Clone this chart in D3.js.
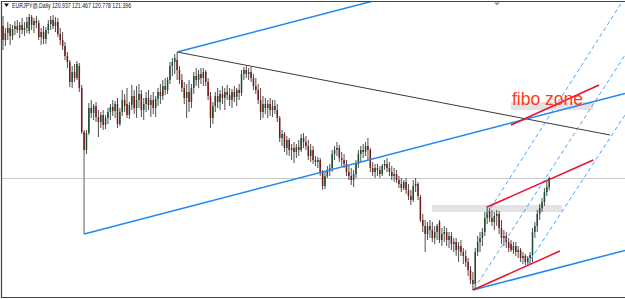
<!DOCTYPE html>
<html>
<head>
<meta charset="utf-8">
<script src="https://cdn.jsdelivr.net/npm/d3@7"></script>
<style>
  body { margin: 0; background: #fff; }
  svg { display: block; }
</style>
</head>
<body>
<div id="chart"></div>
<script>
// EURJPY daily bars (yen)
const symbol = 'EURJPY@,Daily';

const open = [
  129.00,128.30,128.65,128.90,128.50,128.85,129.00,128.80,129.05,128.80,
  128.90,128.75,129.45,129.05,129.25,129.15,128.45,128.70,128.35,128.80,
  129.10,129.30,129.00,129.20,128.60,128.30,128.00,127.50,127.20,126.20,
  126.70,126.40,127.00,125.90,123.70,122.80,123.65,124.90,124.65,125.00,
  124.45,124.20,124.55,124.05,124.40,124.70,124.95,124.75,125.10,124.10,
  124.70,125.30,125.10,124.55,125.05,125.50,124.90,125.30,125.60,124.80,
  125.10,125.40,125.05,125.30,124.90,125.35,125.70,125.50,126.00,125.80,
  126.30,127.00,127.20,127.30,126.80,126.30,125.90,125.40,125.70,125.20,
  125.90,126.50,126.30,126.60,126.40,126.70,126.20,125.50,124.40,125.00,
  125.50,125.20,125.60,125.40,125.70,125.55,125.30,125.70,125.45,125.80,
  125.65,126.60,126.80,126.60,126.70,126.40,126.00,125.80,125.30,124.70,
  125.10,124.90,125.10,124.80,125.00,124.80,124.40,123.40,123.60,122.90,
  123.30,122.80,122.90,122.70,122.95,122.80,123.40,123.20,123.00,122.50,
  122.80,122.30,122.20,122.30,121.70,121.00,121.50,121.80,121.90,122.60,
  122.80,122.90,122.40,122.30,122.10,121.70,121.50,121.30,121.60,122.10,
  122.60,122.80,122.70,123.00,122.80,121.90,121.70,121.90,121.80,121.60,
  122.00,122.10,121.90,121.70,121.50,121.60,121.30,121.10,120.90,121.20,
  120.80,120.50,120.30,121.00,121.10,120.45,119.30,119.00,118.60,119.00,
  118.80,118.40,118.70,119.20,118.30,118.60,118.70,118.30,118.50,118.10,
  118.20,117.80,118.00,117.70,117.50,117.20,116.80,116.30,116.10,117.70,
  118.20,118.40,118.70,119.40,119.70,119.40,119.20,119.50,119.60,118.90,
  118.40,118.50,118.20,118.10,117.80,118.00,117.70,117.80,117.40,117.50,
  117.20,117.40,117.55,118.70,119.00,119.60,119.90,120.20,120.70,120.937
];
const high = [
  129.50,128.90,129.20,129.10,129.05,129.25,129.30,129.20,129.40,129.20,
  129.45,129.60,129.55,129.40,129.50,129.30,128.90,129.00,128.95,129.30,
  129.50,129.55,129.45,129.40,128.90,128.70,128.20,127.70,127.30,127.00,
  127.10,127.25,127.15,126.05,123.80,123.80,125.15,125.30,125.10,125.20,
  124.80,124.70,124.80,124.55,124.90,125.10,125.30,125.25,125.40,124.90,
  125.80,125.60,125.90,125.20,126.05,125.80,126.00,126.10,125.80,125.40,
  125.70,125.80,125.55,125.70,125.50,125.90,126.10,126.30,126.40,126.45,
  127.20,127.40,127.60,127.70,127.00,126.60,126.20,126.10,126.30,126.10,
  126.70,126.90,126.80,126.90,126.90,126.80,126.40,125.70,125.20,125.70,
  125.90,125.80,126.00,125.90,126.05,125.90,125.85,126.00,125.90,126.10,
  126.80,126.95,127.00,126.90,126.95,126.60,126.40,126.10,125.90,125.50,
  125.40,125.30,125.40,125.30,125.30,125.10,124.50,123.80,123.70,123.50,
  123.40,123.10,123.20,123.10,123.30,123.60,123.65,123.50,123.30,123.10,
  123.00,122.50,122.45,122.40,121.80,121.70,122.00,122.10,122.80,123.00,
  123.20,123.05,122.70,122.60,122.30,122.00,121.90,121.80,122.30,122.80,
  123.00,123.10,123.20,123.40,122.90,122.20,122.10,122.10,122.00,122.10,
  122.30,122.40,122.20,122.00,121.90,121.80,121.50,121.40,121.30,121.40,
  121.10,120.80,121.30,121.40,121.20,120.55,119.60,119.30,119.20,119.30,
  119.20,119.00,119.10,119.30,118.90,119.00,118.90,118.70,118.70,118.40,
  118.40,118.20,118.30,117.90,117.80,117.40,117.00,116.70,117.90,118.50,
  118.70,118.90,119.70,120.00,119.90,119.80,119.70,119.80,119.75,119.30,
  118.80,118.70,118.40,118.30,118.20,118.20,118.00,117.90,117.70,117.60,
  117.50,117.70,118.90,119.20,119.80,120.10,120.40,120.90,121.30,121.467
];
const low = [
  127.80,128.00,128.30,128.05,128.30,128.55,128.65,128.40,128.60,128.50,
  128.65,128.60,128.80,128.65,128.90,128.30,128.05,128.10,128.10,128.60,
  128.80,128.85,128.70,128.45,128.05,127.80,127.30,126.90,125.95,125.90,
  126.20,126.30,125.70,123.60,122.45,122.60,123.55,124.40,124.30,124.20,
  123.45,123.90,123.80,123.85,124.10,124.30,124.50,124.40,123.90,124.00,
  124.50,124.70,124.40,124.35,124.80,124.60,124.40,124.90,124.45,124.30,
  124.70,124.80,124.45,124.60,124.45,125.00,125.10,125.30,125.55,125.60,
  126.10,126.50,126.60,126.30,126.10,125.70,125.10,124.40,124.70,124.90,
  125.60,126.00,125.90,126.10,126.00,126.00,125.30,123.90,124.10,124.70,
  124.90,124.80,125.10,124.80,125.30,125.00,124.90,125.20,125.00,125.30,
  125.50,126.30,126.40,126.30,126.20,125.80,125.60,125.10,124.30,124.40,
  124.60,124.40,124.50,124.45,124.60,124.20,123.20,123.00,122.70,122.55,
  122.50,122.30,122.15,122.40,122.50,122.70,122.90,122.80,122.30,122.20,
  122.10,122.00,121.90,121.50,120.80,120.85,121.40,121.50,121.70,122.30,
  122.50,122.20,122.00,121.90,121.50,121.30,121.05,120.95,121.40,121.90,
  122.20,122.40,122.50,122.30,121.70,121.50,121.40,121.50,121.40,121.50,
  121.80,121.70,121.50,121.30,121.20,121.15,120.90,120.70,120.80,120.60,
  120.30,120.05,120.20,120.70,120.30,119.20,118.70,117.70,118.30,118.40,
  118.20,118.10,118.30,118.15,118.00,118.20,118.00,117.90,117.80,117.70,
  117.50,117.20,117.50,117.10,116.95,116.50,116.10,115.80,115.90,117.50,
  117.70,118.00,118.50,119.10,119.20,119.00,118.80,119.00,118.60,118.10,
  118.00,117.90,117.70,117.70,117.60,117.50,117.40,117.20,117.10,117.05,
  117.05,117.10,117.20,118.40,118.70,119.30,119.70,120.00,120.50,120.778
];
const close = [
  128.30,128.65,128.90,128.50,128.85,129.00,128.80,129.05,128.80,128.90,
  129.20,129.45,129.05,129.25,129.15,128.45,128.70,128.35,128.80,129.10,
  129.30,129.00,129.20,128.60,128.30,128.00,127.50,127.20,126.20,126.70,
  126.40,127.10,125.90,123.70,122.80,123.65,124.90,124.65,125.00,124.45,
  124.20,124.55,124.05,124.40,124.70,124.95,124.75,125.10,124.10,124.70,
  125.30,125.00,124.55,125.05,125.50,124.90,125.30,125.60,124.80,125.10,
  125.40,125.05,125.30,124.90,125.35,125.70,125.50,126.00,125.80,126.30,
  127.00,127.20,127.40,126.80,126.30,125.90,125.40,125.70,125.20,125.90,
  126.50,126.30,126.60,126.40,126.70,126.20,125.50,124.40,125.00,125.50,
  125.20,125.60,125.40,125.70,125.55,125.30,125.70,125.45,125.80,125.65,
  126.60,126.80,126.60,126.70,126.40,126.00,125.80,125.30,124.70,125.10,
  124.90,125.10,124.80,125.00,124.80,124.40,123.40,123.60,122.90,123.30,
  122.80,122.90,122.70,122.95,122.80,123.40,123.20,123.00,122.50,122.80,
  122.30,122.20,122.30,121.70,121.00,121.50,121.80,121.90,122.60,122.80,
  122.90,122.40,122.30,122.10,121.70,121.50,121.30,121.60,122.10,122.60,
  122.80,122.70,123.00,122.80,121.90,121.70,121.90,121.80,121.60,122.00,
  122.10,121.90,121.70,121.50,121.60,121.30,121.10,120.90,121.20,120.80,
  120.50,120.30,121.00,121.10,120.50,119.30,119.00,118.60,119.00,118.80,
  118.40,118.70,119.00,118.30,118.60,118.70,118.30,118.50,118.10,118.20,
  117.80,118.00,117.70,117.50,117.20,116.80,116.30,116.10,117.70,118.20,
  118.40,118.70,119.40,119.70,119.40,119.20,119.50,119.60,118.90,118.40,
  118.50,118.20,117.90,117.80,118.00,117.70,117.80,117.40,117.50,117.20,
  117.40,117.55,118.70,119.00,119.60,119.90,120.20,120.70,120.94,121.396
];

// drawn objects, as [bar index, price] end points
const blueLines = [
  [[34, 118.60], [260.8, 125.63]],
  [[73, 127.70], [160, 130.40]],
  [[197, 115.80], [260.8, 117.78]]
];
const blackLine = [[73, 127.70], [254.5, 123.55]];
const greyVertical = [[34, 122.45], [34, 118.60]];
const redLines = [
  [[197, 115.80], [233.5, 117.75]],
  [[203, 119.95], [247.5, 122.30]],
  [[213, 124.05], [249.9, 126.05]]
];
const fiboLines = [
  [[202.9, 119.60], [259.5, 130.20]],
  [[197.5, 115.85], [260.8, 127.55]],
  [[219.7, 117.05], [260.8, 124.55]]
];
const zones = [
  { from: 179.9, to: 234.4, top: 120.05, bottom: 119.70 },
  { from: 213, to: 247.4, top: 125.20, bottom: 124.80 }
];
const label = { text: 'fibo zone', bar: 213.4, price: 125.05 };

const width = 625, height = 299;
const frame = { left: 1.5, top: 1.5, bottom: 297.5 };

const x = d3.scaleLinear().domain([0, close.length - 1]).range([3, 549.2]);
const y = d3.scaleLinear().domain([115.45, 130.2]).range([297, 2]);

const svg = d3.select('#chart').append('svg')
  .attr('width', width)
  .attr('height', height);

svg.append('clipPath').attr('id', 'plot')
  .append('rect')
  .attr('x', 2).attr('y', 2)
  .attr('width', width - 2).attr('height', 295);

const g = svg.append('g').attr('clip-path', 'url(#plot)');

// shaded zones
g.selectAll('.zone')
  .data(zones)
  .enter().append('rect')
  .attr('class', 'zone')
  .attr('x', d => x(d.from))
  .attr('y', d => y(d.top))
  .attr('width', d => x(d.to) - x(d.from))
  .attr('height', d => y(d.bottom) - y(d.top))
  .attr('fill', '#e3e3e3');

// bid line
const bidY = Math.round(y(close[close.length - 1])) + 0.5;
g.append('line')
  .attr('x1', 2).attr('x2', width)
  .attr('y1', bidY).attr('y2', bidY)
  .attr('stroke', '#c8c8c8')
  .attr('stroke-width', 1);

const line = d3.line().x(d => x(d[0])).y(d => y(d[1]));

// candles
const bars = d3.range(close.length);
g.selectAll('.wick')
  .data(bars)
  .enter().append('line')
  .attr('class', 'wick')
  .attr('x1', i => x(i)).attr('x2', i => x(i))
  .attr('y1', i => y(high[i])).attr('y2', i => y(low[i]))
  .attr('stroke', '#222')
  .attr('stroke-width', 0.8);

g.selectAll('.body')
  .data(bars)
  .enter().append('rect')
  .attr('class', 'body')
  .attr('x', i => x(i) - 0.75)
  .attr('y', i => y(Math.max(open[i], close[i])))
  .attr('width', 1.5)
  .attr('height', i => Math.max(1, Math.abs(y(open[i]) - y(close[i]))))
  .attr('fill', i => close[i] >= open[i] ? '#174f2a' : '#7d1414');

// drawn objects
g.append('path')
  .datum(greyVertical)
  .attr('d', line)
  .attr('stroke', '#9a9a9a')
  .attr('stroke-width', 1.6)
  .attr('fill', 'none');

g.append('path')
  .datum(blackLine)
  .attr('d', line)
  .attr('stroke', '#3a3a3a')
  .attr('stroke-width', 1)
  .attr('fill', 'none');

g.selectAll('.fibo')
  .data(fiboLines)
  .enter().append('path')
  .attr('class', 'fibo')
  .attr('d', line)
  .attr('stroke', '#4aa3ff')
  .attr('stroke-width', 1)
  .attr('stroke-dasharray', '4,3')
  .attr('fill', 'none');

g.selectAll('.blue')
  .data(blueLines)
  .enter().append('path')
  .attr('class', 'blue')
  .attr('d', line)
  .attr('stroke', '#1e88f0')
  .attr('stroke-width', 1.5)
  .attr('fill', 'none');

g.selectAll('.red')
  .data(redLines)
  .enter().append('path')
  .attr('class', 'red')
  .attr('d', line)
  .attr('stroke', '#e8102e')
  .attr('stroke-width', 1.5)
  .attr('fill', 'none');

g.append('text')
  .attr('x', x(label.bar))
  .attr('y', y(label.price))
  .attr('font-family', 'Liberation Sans, Arial, sans-serif')
  .attr('font-size', 17.5)
  .attr('fill', '#ff3a17')
  .text(label.text);

// frame
svg.append('path')
  .attr('d', `M${width},${frame.top}H${frame.left}V${frame.bottom}H${width}`)
  .attr('stroke', '#444')
  .attr('stroke-width', 1.2)
  .attr('fill', 'none');

// shift marker
svg.append('path')
  .attr('d', 'M494,2.5L500,2.5L497,5.5Z')
  .attr('fill', '#999');

// header
svg.append('path')
  .attr('d', 'M4,3.5L9,3.5L6.5,7Z')
  .attr('fill', '#111');
const last = close.length - 1;
svg.append('text')
  .attr('x', 12).attr('y', 8)
  .attr('font-family', 'Liberation Sans, Arial, sans-serif')
  .attr('font-size', 6.5)
  .attr('fill', '#111')
  .attr('textLength', 119)
  .attr('lengthAdjust', 'spacingAndGlyphs')
  .text(`${symbol}  ${open[last].toFixed(3)} ${high[last].toFixed(3)} ${low[last].toFixed(3)} ${close[last].toFixed(3)}`);
</script>
</body>
</html>
